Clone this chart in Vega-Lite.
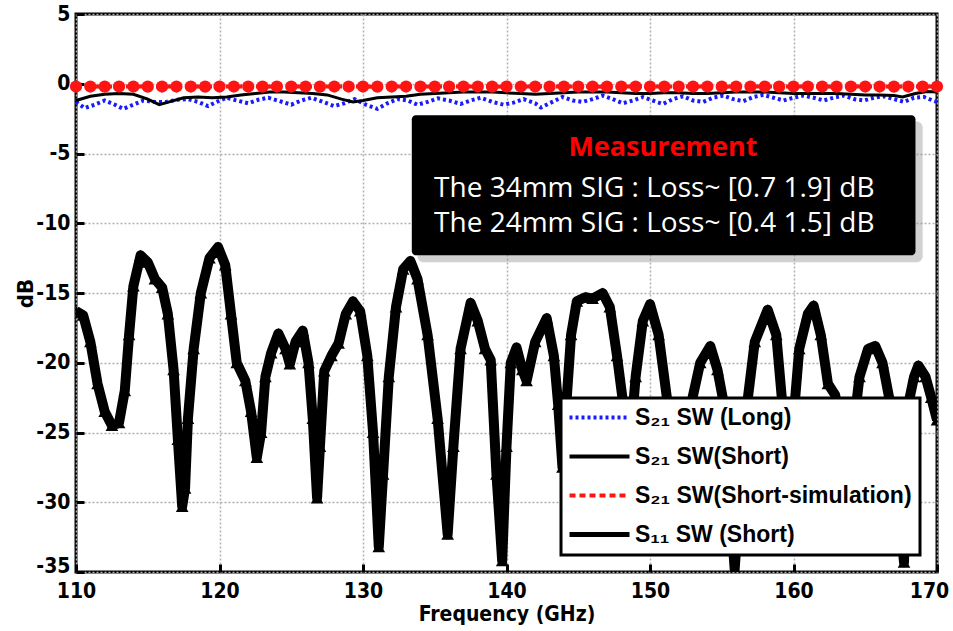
{
  "$schema": "https://vega.github.io/schema/vega-lite/v6.json",
  "width": 861,
  "height": 558,
  "autosize": {"type": "none"},
  "padding": {"left": 76, "top": 14, "right": 16, "bottom": 59},
  "background": "white",
  "config": {
    "view": {"stroke": "black", "strokeWidth": 3},
    "axis": {
      "labelFont": "DejaVu Sans Condensed, Liberation Sans, Arial",
      "labelFontWeight": "bold",
      "labelFontSize": 21,
      "labelColor": "black",
      "labelFlush": false,
      "titleFont": "DejaVu Sans Condensed, Liberation Sans, Arial",
      "titleFontWeight": "bold",
      "titleFontSize": 21,
      "titleColor": "black",
      "domain": false,
      "ticks": true,
      "tickColor": "black",
      "tickWidth": 3,
      "tickSize": -8,
      "grid": true,
      "gridColor": "#b0b0b0",
      "gridDash": [2, 2],
      "gridWidth": 1.5
    },
    "legend": {
      "labelFont": "Liberation Sans, Arial",
      "labelFontWeight": "bold",
      "labelFontSize": 23,
      "labelColor": "black",
      "labelLimit": 500
    }
  },
  "datasets": {
    "s11": [
      {"f":110.0,"db":-16.3},{"f":110.5,"db":-16.6},{"f":111.0,"db":-18.5},{"f":111.5,"db":-21.5},{"f":112.0,"db":-23.5},{"f":112.5,"db":-24.5},{"f":113.0,"db":-24.3},{"f":113.4,"db":-22},{"f":113.7,"db":-18},{"f":114.0,"db":-14.5},{"f":114.5,"db":-12.3},{"f":115.0,"db":-12.8},{"f":115.5,"db":-14.0},{"f":116.0,"db":-14.6},{"f":116.4,"db":-16.5},{"f":116.8,"db":-20.5},{"f":117.1,"db":-25.5},{"f":117.4,"db":-30.3},{"f":117.6,"db":-29},{"f":117.8,"db":-24},{"f":118.2,"db":-19},{"f":118.7,"db":-15},{"f":119.3,"db":-12.5},{"f":119.9,"db":-11.7},{"f":120.4,"db":-13},{"f":120.8,"db":-16.5},{"f":121.2,"db":-20},{"f":121.8,"db":-21.3},{"f":122.2,"db":-23.5},{"f":122.6,"db":-26.8},{"f":122.9,"db":-25},{"f":123.2,"db":-21},{"f":123.6,"db":-19.3},{"f":124.1,"db":-17.9},{"f":124.6,"db":-19},{"f":124.9,"db":-20.1},{"f":125.3,"db":-18.5},{"f":125.8,"db":-17.7},{"f":126.2,"db":-20},{"f":126.5,"db":-24},{"f":126.8,"db":-29.7},{"f":127.0,"db":-26},{"f":127.3,"db":-20.6},{"f":127.8,"db":-19.5},{"f":128.3,"db":-18.6},{"f":128.8,"db":-16.5},{"f":129.3,"db":-15.6},{"f":129.8,"db":-16.3},{"f":130.3,"db":-19.5},{"f":130.7,"db":-25},{"f":131.1,"db":-33.2},{"f":131.4,"db":-28},{"f":131.8,"db":-21},{"f":132.3,"db":-16},{"f":132.8,"db":-13.3},{"f":133.3,"db":-12.7},{"f":133.8,"db":-14},{"f":134.5,"db":-18},{"f":135.2,"db":-24},{"f":135.9,"db":-32.3},{"f":136.3,"db":-26},{"f":136.8,"db":-19},{"f":137.5,"db":-15.7},{"f":138.0,"db":-17},{"f":138.5,"db":-19},{"f":138.9,"db":-19.8},{"f":139.3,"db":-28},{"f":139.7,"db":-34.2},{"f":140.0,"db":-26},{"f":140.3,"db":-20},{"f":140.7,"db":-18.9},{"f":141.1,"db":-20.5},{"f":141.4,"db":-21.3},{"f":142.0,"db":-18.5},{"f":142.8,"db":-16.8},{"f":143.3,"db":-19.5},{"f":143.6,"db":-23},{"f":143.9,"db":-27.5},{"f":144.2,"db":-22.5},{"f":144.5,"db":-18},{"f":144.9,"db":-15.6},{"f":145.5,"db":-15.3},{"f":146.0,"db":-15.4},{"f":146.7,"db":-15.0},{"f":147.2,"db":-16},{"f":147.7,"db":-19.5},{"f":148.2,"db":-23.5},{"f":148.6,"db":-26},{"f":149.0,"db":-21},{"f":149.5,"db":-17},{"f":150.0,"db":-15.8},{"f":150.6,"db":-18},{"f":151.2,"db":-22.7},{"f":151.7,"db":-28},{"f":152.1,"db":-31},{"f":152.5,"db":-27},{"f":152.9,"db":-22.8},{"f":153.5,"db":-20},{"f":154.2,"db":-18.8},{"f":154.7,"db":-20.5},{"f":155.1,"db":-22.7},{"f":155.5,"db":-29},{"f":155.9,"db":-34.8},{"f":156.3,"db":-29},{"f":156.8,"db":-22.7},{"f":157.3,"db":-18.5},{"f":158.2,"db":-16.2},{"f":158.8,"db":-18},{"f":159.2,"db":-22.7},{"f":159.6,"db":-28},{"f":160.0,"db":-24},{"f":160.4,"db":-19},{"f":161.0,"db":-16.5},{"f":161.4,"db":-15.9},{"f":161.9,"db":-18},{"f":162.4,"db":-21.5},{"f":162.9,"db":-22.3},{"f":163.3,"db":-24.5},{"f":163.8,"db":-28},{"f":164.2,"db":-24.5},{"f":164.6,"db":-21},{"f":165.2,"db":-19},{"f":165.7,"db":-18.8},{"f":166.2,"db":-20},{"f":166.7,"db":-22.7},{"f":167.2,"db":-28},{"f":167.7,"db":-34.3},{"f":168.0,"db":-23},{"f":168.4,"db":-21},{"f":168.7,"db":-20.2},{"f":169.2,"db":-21},{"f":169.6,"db":-22.5},{"f":170.0,"db":-24.1}
    ],
    "blue": [
      {"f":110,"db":-1.3},{"f":110.6,"db":-1.75},{"f":111.3,"db":-1.5},{"f":112,"db":-1.2},{"f":112.7,"db":-1.5},{"f":113.3,"db":-1.8},{"f":114,"db":-1.5},{"f":114.7,"db":-1.2},{"f":115.5,"db":-1.3},{"f":116.3,"db":-1.3},{"f":117,"db":-1.15},{"f":117.8,"db":-1.1},{"f":118.5,"db":-1.3},{"f":119.2,"db":-1.6},{"f":119.8,"db":-1.3},{"f":120.5,"db":-1.0},{"f":121.2,"db":-1.2},{"f":122,"db":-1.4},{"f":122.7,"db":-1.15},{"f":123.4,"db":-1.0},{"f":124.2,"db":-1.25},{"f":125,"db":-1.5},{"f":125.7,"db":-1.2},{"f":126.4,"db":-1.0},{"f":127.2,"db":-1.3},{"f":128,"db":-1.6},{"f":128.7,"db":-1.4},{"f":129.4,"db":-1.1},{"f":130.2,"db":-1.5},{"f":131,"db":-1.8},{"f":131.7,"db":-1.4},{"f":132.4,"db":-1.1},{"f":133.1,"db":-1.2},{"f":133.8,"db":-1.5},{"f":134.5,"db":-1.3},{"f":135.2,"db":-1.05},{"f":136,"db":-1.2},{"f":136.8,"db":-1.45},{"f":137.5,"db":-1.2},{"f":138.2,"db":-1.0},{"f":139,"db":-1.3},{"f":139.8,"db":-1.5},{"f":140.5,"db":-1.35},{"f":141.2,"db":-1.1},{"f":142,"db":-1.4},{"f":142.4,"db":-1.7},{"f":143.2,"db":-1.3},{"f":143.9,"db":-0.95},{"f":144.6,"db":-1.2},{"f":145.3,"db":-1.3},{"f":146,"db":-1.1},{"f":146.7,"db":-0.85},{"f":147.4,"db":-1.1},{"f":148.1,"db":-1.4},{"f":148.8,"db":-1.2},{"f":149.5,"db":-0.95},{"f":150.2,"db":-1.2},{"f":150.9,"db":-1.45},{"f":151.6,"db":-1.1},{"f":152.3,"db":-0.9},{"f":153,"db":-1.2},{"f":153.7,"db":-1.3},{"f":154.4,"db":-1.0},{"f":155.1,"db":-0.85},{"f":155.8,"db":-1.1},{"f":156.5,"db":-1.25},{"f":157.2,"db":-0.95},{"f":157.9,"db":-0.8},{"f":158.6,"db":-1.0},{"f":159.3,"db":-1.2},{"f":160,"db":-1.0},{"f":160.7,"db":-0.85},{"f":161.4,"db":-1.0},{"f":162.1,"db":-1.2},{"f":162.8,"db":-1.0},{"f":163.5,"db":-0.85},{"f":164.2,"db":-1.1},{"f":164.9,"db":-1.2},{"f":165.6,"db":-1.0},{"f":166.3,"db":-0.9},{"f":167,"db":-1.1},{"f":167.7,"db":-1.3},{"f":168.4,"db":-1.0},{"f":169.1,"db":-0.95},{"f":169.7,"db":-1.2},{"f":170,"db":-1.3}
    ],
    "black": [
      {"f":110,"db":-1.2},{"f":111,"db":-0.9},{"f":112,"db":-0.75},{"f":113,"db":-0.7},{"f":114,"db":-0.75},{"f":115,"db":-1.1},{"f":115.8,"db":-1.5},{"f":116.5,"db":-1.3},{"f":117.5,"db":-1.0},{"f":118.5,"db":-0.95},{"f":119.5,"db":-1.0},{"f":120.5,"db":-0.95},{"f":121.5,"db":-0.8},{"f":122.5,"db":-0.7},{"f":123.5,"db":-0.6},{"f":124.5,"db":-0.6},{"f":125.5,"db":-0.65},{"f":126.5,"db":-0.7},{"f":127.5,"db":-0.8},{"f":128.5,"db":-1.1},{"f":129.3,"db":-1.3},{"f":130,"db":-1.2},{"f":131,"db":-1.0},{"f":132,"db":-0.95},{"f":133,"db":-0.9},{"f":134,"db":-0.75},{"f":135,"db":-0.7},{"f":136,"db":-0.65},{"f":137,"db":-0.6},{"f":138,"db":-0.6},{"f":139,"db":-0.6},{"f":140,"db":-0.65},{"f":141,"db":-0.7},{"f":142,"db":-0.75},{"f":143,"db":-0.7},{"f":144,"db":-0.65},{"f":145,"db":-0.6},{"f":146,"db":-0.6},{"f":147,"db":-0.6},{"f":148,"db":-0.65},{"f":149,"db":-0.7},{"f":150,"db":-0.7},{"f":151,"db":-0.65},{"f":152,"db":-0.65},{"f":153,"db":-0.7},{"f":154,"db":-0.7},{"f":155,"db":-0.65},{"f":156,"db":-0.6},{"f":157,"db":-0.6},{"f":158,"db":-0.6},{"f":159,"db":-0.65},{"f":160,"db":-0.7},{"f":161,"db":-0.7},{"f":162,"db":-0.7},{"f":163,"db":-0.7},{"f":164,"db":-0.75},{"f":165,"db":-0.8},{"f":166,"db":-0.8},{"f":167,"db":-0.85},{"f":167.6,"db":-0.95},{"f":168.5,"db":-0.7},{"f":169.3,"db":-0.55},{"f":170,"db":-0.6}
    ],
    "red": [
      {"f":110,"db":-0.2},{"f":111,"db":-0.2},{"f":112,"db":-0.21},{"f":113,"db":-0.2},{"f":114,"db":-0.2},{"f":115,"db":-0.21},{"f":116,"db":-0.2},{"f":117,"db":-0.2},{"f":118,"db":-0.2},{"f":119,"db":-0.21},{"f":120,"db":-0.2},{"f":121,"db":-0.2},{"f":122,"db":-0.2},{"f":123,"db":-0.21},{"f":124,"db":-0.2},{"f":125,"db":-0.2},{"f":126,"db":-0.2},{"f":127,"db":-0.21},{"f":128,"db":-0.2},{"f":129,"db":-0.2},{"f":130,"db":-0.2},{"f":131,"db":-0.21},{"f":132,"db":-0.2},{"f":133,"db":-0.2},{"f":134,"db":-0.2},{"f":135,"db":-0.21},{"f":136,"db":-0.2},{"f":137,"db":-0.2},{"f":138,"db":-0.2},{"f":139,"db":-0.21},{"f":140,"db":-0.2},{"f":141,"db":-0.2},{"f":142,"db":-0.2},{"f":143,"db":-0.21},{"f":144,"db":-0.2},{"f":145,"db":-0.2},{"f":146,"db":-0.2},{"f":147,"db":-0.21},{"f":148,"db":-0.2},{"f":149,"db":-0.2},{"f":150,"db":-0.2},{"f":151,"db":-0.21},{"f":152,"db":-0.2},{"f":153,"db":-0.2},{"f":154,"db":-0.2},{"f":155,"db":-0.21},{"f":156,"db":-0.2},{"f":157,"db":-0.2},{"f":158,"db":-0.2},{"f":159,"db":-0.21},{"f":160,"db":-0.2},{"f":161,"db":-0.2},{"f":162,"db":-0.2},{"f":163,"db":-0.21},{"f":164,"db":-0.2},{"f":165,"db":-0.2},{"f":166,"db":-0.2},{"f":167,"db":-0.21},{"f":168,"db":-0.2},{"f":169,"db":-0.2},{"f":170,"db":-0.2}
    ],
    "box": [{"f":133.4,"f2":168.5,"db":-2.25,"db2":-12.3}],
    "shadow": [{"f":133.8,"f2":169.0,"db":-2.7,"db2":-12.8}],
    "title": [{"f":150.9,"db":-4.6,"t":"Measurement"}],
    "lines": [
      {"f":150.3,"db":-7.55,"t":"The 34mm SIG : Loss~ [0.7 1.9] dB"},
      {"f":150.3,"db":-10.05,"t":"The 24mm SIG : Loss~ [0.4 1.5] dB"}
    ]
  },
  "layer": [
    {
      "data": {"name": "s11"},
      "mark": {"type": "line", "strokeWidth": 10, "strokeJoin": "round", "clip": true},
      "encoding": {
        "x": {"field": "f", "type": "quantitative", "scale": {"domain": [110, 170], "nice": false}, "axis": {"values": [110,120,130,140,150,160,170], "title": "Frequency (GHz)", "labelPadding": 16, "titlePadding": 2, "labelOffset": {"condition": {"test": "datum.value == 170", "value": -8}, "value": 0}, "encode": {"ticks": {"update": {"y": {"value": 0}, "y2": {"value": -8}}}}}},
        "y": {"field": "db", "type": "quantitative", "scale": {"domain": [-35, 5], "nice": false}, "axis": {"values": [-35,-30,-25,-20,-15,-10,-5,0,5], "title": "dB", "labelPadding": 14, "titlePadding": -2, "titleFontSize": 22, "labelOffset": {"condition": {"test": "datum.value == -35", "value": -6}, "value": 0}, "labelExpr": "datum.value < 0 ? '-' + abs(datum.value) : '' + datum.value", "encode": {"ticks": {"update": {"x": {"value": 0}, "x2": {"value": 8}}}}}},
        "color": {
          "datum": "S₁₁ SW (Short)",
          "scale": {
            "domain": ["S₂₁ SW (Long)", "S₂₁ SW(Short)", "S₂₁ SW(Short-simulation)", "S₁₁ SW (Short)"],
            "range": ["#1a1aff", "#000000", "#ff1414", "#000000"]
          },
          "legend": {
            "title": null,
            "orient": "bottom-right",
            "offset": 17,
            "symbolType": "stroke",
            "symbolSize": 3600,
            "symbolStrokeWidth": 4,
            "symbolOffset": 19,
            "labelOffset": 24,
            "rowPadding": 15,
            "padding": 8,
            "strokeColor": "black",
            "fillColor": "white",
            "encode": {
              "legend": {"update": {"strokeWidth": {"value": 3}}},
              "symbols": {"update": {
                "strokeDash": {"signal": "datum.index == 0 ? [3,3] : datum.index == 2 ? [6,4] : [1,0]"},
                "strokeWidth": {"signal": "datum.index == 3 ? 5 : 4"}
              }}
            }
          }
        }
      }
    },
    {
      "data": {"name": "s11"},
      "mark": {"type": "point", "shape": "triangle-up", "filled": true, "color": "black", "opacity": 1, "size": 160, "clip": true},
      "encoding": {
        "x": {"field": "f", "type": "quantitative"},
        "y": {"field": "db", "type": "quantitative"}
      }
    },
    {
      "data": {"name": "blue"},
      "mark": {"type": "line", "strokeWidth": 4, "strokeDash": [3, 3]},
      "encoding": {
        "x": {"field": "f", "type": "quantitative"},
        "y": {"field": "db", "type": "quantitative"},
        "color": {"datum": "S₂₁ SW (Long)"}
      }
    },
    {
      "data": {"name": "black"},
      "mark": {"type": "line", "strokeWidth": 3},
      "encoding": {
        "x": {"field": "f", "type": "quantitative"},
        "y": {"field": "db", "type": "quantitative"},
        "color": {"datum": "S₂₁ SW(Short)"}
      }
    },
    {
      "data": {"name": "red"},
      "mark": {"type": "line", "strokeWidth": 4, "strokeDash": [6, 4]},
      "encoding": {
        "x": {"field": "f", "type": "quantitative"},
        "y": {"field": "db", "type": "quantitative"},
        "color": {"datum": "S₂₁ SW(Short-simulation)"}
      }
    },
    {
      "data": {"name": "red"},
      "mark": {"type": "point", "shape": "circle", "filled": true, "color": "#ff1414", "opacity": 1, "size": 150},
      "encoding": {
        "x": {"field": "f", "type": "quantitative"},
        "y": {"field": "db", "type": "quantitative"}
      }
    },
    {
      "data": {"name": "shadow"},
      "mark": {"type": "rect", "fill": "#9a9a9a", "opacity": 0.45, "cornerRadius": 6},
      "encoding": {
        "x": {"field": "f", "type": "quantitative"},
        "x2": {"field": "f2"},
        "y": {"field": "db", "type": "quantitative"},
        "y2": {"field": "db2"}
      }
    },
    {
      "data": {"name": "box"},
      "mark": {"type": "rect", "fill": "black", "cornerRadius": 4},
      "encoding": {
        "x": {"field": "f", "type": "quantitative"},
        "x2": {"field": "f2"},
        "y": {"field": "db", "type": "quantitative"},
        "y2": {"field": "db2"}
      }
    },
    {
      "data": {"name": "title"},
      "mark": {"type": "text", "font": "Open Sans", "fontWeight": "bold", "fontSize": 27, "color": "#ff0000", "align": "center", "baseline": "middle"},
      "encoding": {
        "x": {"field": "f", "type": "quantitative"},
        "y": {"field": "db", "type": "quantitative"},
        "text": {"field": "t"}
      }
    },
    {
      "data": {"name": "lines"},
      "mark": {"type": "text", "font": "Open Sans", "fontSize": 28, "color": "white", "align": "center", "baseline": "middle"},
      "encoding": {
        "x": {"field": "f", "type": "quantitative"},
        "y": {"field": "db", "type": "quantitative"},
        "text": {"field": "t"}
      }
    }
  ]
}
